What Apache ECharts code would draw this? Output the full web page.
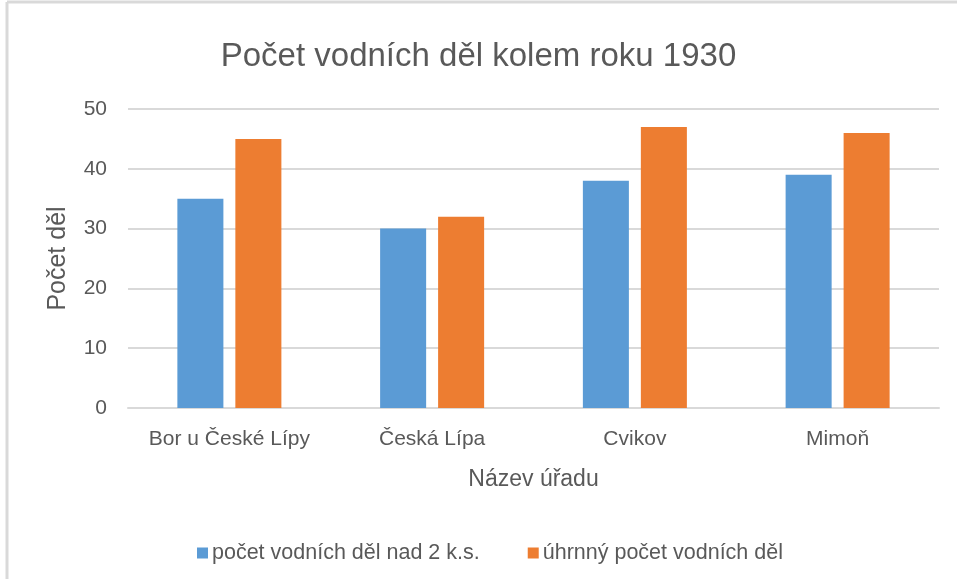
<!DOCTYPE html>
<html>
<head>
<meta charset="utf-8">
<script src="https://cdn.jsdelivr.net/npm/echarts@6/dist/echarts.min.js"></script>
<style>
html, body { margin: 0; padding: 0; background: #fff; }
#chart { width: 957px; height: 579px; }
</style>
</head>
<body>
<div id="chart"></div>
<script>
var categories = ['Bor u České Lípy', 'Česká Lípa', 'Cvikov', 'Mimoň'];
var seriesNames = ['počet vodních děl nad 2 k.s.', 'úhrnný počet vodních děl'];
var over2 = [35, 30, 38, 39];
var total = [45, 32, 47, 46];

var textColor = '#595959';
var fontName = 'Liberation Sans';

var myChart = echarts.init(document.getElementById('chart'));
var option = {
	backgroundColor: '#fff',
	animation: false,
	textStyle: { fontFamily: fontName, color: textColor },
	title: {
		text: 'Počet vodních děl kolem roku 1930',
		left: 'center',
		top: 35,
		textStyle: { fontFamily: fontName, fontSize: 33, fontWeight: 'normal', color: textColor }
	},
	// ramecek kolem grafu
	graphic: [
		{ type: 'line', shape: { x1: 7, y1: 2, x2: 957, y2: 2 }, style: { stroke: '#d9d9d9', lineWidth: 3 } },
		{ type: 'line', shape: { x1: 7, y1: 2, x2: 7, y2: 579 }, style: { stroke: '#d9d9d9', lineWidth: 3 } }
	],
	legend: {
		data: seriesNames,
		top: 537,
		left: 192,
		itemWidth: 11,
		itemHeight: 11,
		itemGap: 48,
		icon: 'rect',
		textStyle: { fontFamily: fontName, fontSize: 21.5, color: textColor, padding: [0, 0, 0, -1] }
	},
	grid: { left: 128, right: 18, top: 109, bottom: 171 },
	xAxis: {
		type: 'category',
		data: categories,
		name: 'Název úřadu',
		nameLocation: 'middle',
		nameGap: 60,
		nameTextStyle: { fontFamily: fontName, fontSize: 23, color: textColor },
		axisLine: { lineStyle: { color: '#d9d9d9', width: 2 } },
		axisTick: { show: false },
		axisLabel: { interval: 0, fontFamily: fontName, fontSize: 21, color: textColor, margin: 21 }
	},
	yAxis: {
		type: 'value',
		min: 0,
		max: 50,
		interval: 10,
		name: 'Počet děl',
		nameLocation: 'middle',
		nameGap: 57,
		nameTextStyle: { fontFamily: fontName, fontSize: 25, color: textColor },
		axisLine: { show: false },
		axisTick: { show: false },
		splitLine: { lineStyle: { color: '#d9d9d9', width: 2 } },
		axisLabel: { fontFamily: fontName, fontSize: 21, color: textColor, margin: 21 }
	},
	series: [
		{
			name: seriesNames[0],
			type: 'bar',
			data: over2,
			barWidth: '22.7%',
			barGap: '26%',
			itemStyle: { color: '#5b9bd5' }
		},
		{
			name: seriesNames[1],
			type: 'bar',
			data: total,
			barWidth: '22.7%',
			itemStyle: { color: '#ed7d31' }
		}
	]
};
myChart.setOption(option);
</script>
</body>
</html>
